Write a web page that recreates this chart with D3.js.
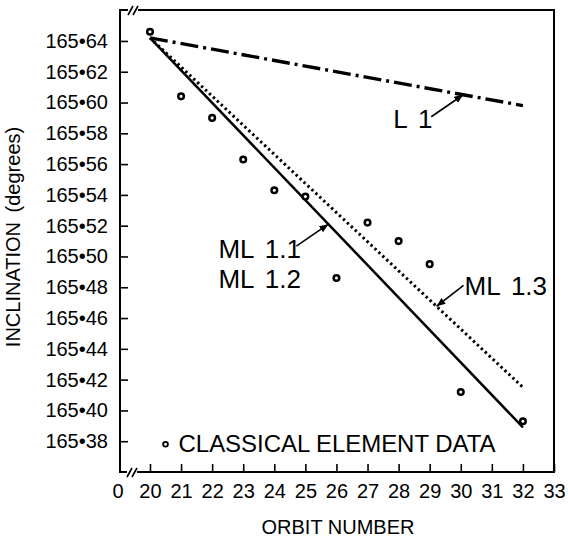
<!DOCTYPE html>
<html>
<head>
<meta charset="utf-8">
<script src="https://cdn.jsdelivr.net/npm/d3@7"></script>
<style>
  body { margin: 0; background: #fff; }
  svg { display: block; font-family: "Liberation Sans", Arial, sans-serif; }
</style>
</head>
<body>
<div id="chart"></div>
<script>
// orbit numbers and classical element inclinations (degrees)
const orbits = [20, 21, 22, 23, 24, 25, 26, 27, 28, 29, 30, 32];
const inclinations = [165.646, 165.604, 165.590, 165.563, 165.543, 165.539,
  165.486, 165.522, 165.510, 165.495, 165.412, 165.393];

// fitted lines: [start orbit, end orbit], [start value, end value]
const lineNames = ['L 1', 'ML 1.1', 'ML 1.3'];
const lineOrbits = [[20, 32], [20, 32], [20, 32]];
const lineValues = [[165.642, 165.598], [165.642, 165.389], [165.642, 165.415]];

const xTicks = [20, 21, 22, 23, 24, 25, 26, 27, 28, 29, 30, 31, 32, 33];
const yTicks = [165.38, 165.40, 165.42, 165.44, 165.46, 165.48, 165.50,
  165.52, 165.54, 165.56, 165.58, 165.60, 165.62, 165.64];

const width = 568, height = 543;
const margin = { top: 10, right: 14, bottom: 71, left: 120 };

const svg = d3.select('#chart').append('svg')
  .attr('width', width)
  .attr('height', height);

const x = d3.scaleLinear().domain([19.035, 33]).range([margin.left, width - margin.right]);
const y = d3.scaleLinear().domain([165.36, 165.6601]).range([height - margin.bottom, margin.top]);

const x0 = x.range()[0], x1 = x.range()[1];
const y0 = y.range()[0], y1 = y.range()[1];

// axes (ticks pointing inward)
const gx = svg.append('g')
  .attr('transform', `translate(0,${y0})`)
  .call(d3.axisBottom(x).tickValues(xTicks).tickSizeInner(-8).tickSizeOuter(0).tickPadding(12).tickFormat(d3.format('d')));
gx.select('.domain').remove();
gx.selectAll('line').attr('stroke', '#000').attr('stroke-width', 1.6);
gx.selectAll('text').attr('fill', '#000').style('font-size', '20px');

// the "0" at the origin of the broken axis
svg.append('text')
  .attr('x', x0 - 2)
  .attr('y', y0 + 12)
  .attr('dy', '0.71em')
  .attr('text-anchor', 'middle')
  .style('font-size', '20px')
  .text('0');

const gy = svg.append('g')
  .attr('transform', `translate(${x0},0)`)
  .call(d3.axisLeft(y).tickValues(yTicks).tickSizeInner(-8).tickSizeOuter(0).tickPadding(12)
    .tickFormat(d => '165•' + d3.format('02d')(Math.round((d - 165) * 100))));
gy.select('.domain').remove();
gy.selectAll('line').attr('stroke', '#000').attr('stroke-width', 1.6);
gy.selectAll('text').attr('fill', '#000').style('font-size', '20px');

// frame with breaks near the left corners
const frame = svg.append('g').attr('stroke', '#000').attr('stroke-width', 2).attr('fill', 'none');
frame.append('path').attr('d', `M${x0 + 8},${y1}H${x0}V${y0}H${x0 + 7}`);
frame.append('path').attr('d', `M${x0 + 18},${y1}H${x1}V${y0}H${x0 + 17}`);
[[x0 + 8, y1], [x0 + 7, y0]].forEach(([bx, by]) => {
  frame.append('path').attr('stroke-width', 1.6)
    .attr('d', `M${bx},${by + 5}L${bx + 5},${by - 4}M${bx + 5},${by + 5}L${bx + 10},${by - 4}`);
});

// fitted lines
const styles = [
  { width: 3.4, dash: '18,5,3,5' },
  { width: 2.5, dash: null },
  { width: 3, dash: '2.4,3' }
];
lineNames.forEach((name, i) => {
  svg.append('line')
    .attr('x1', x(lineOrbits[i][0])).attr('y1', y(lineValues[i][0]))
    .attr('x2', x(lineOrbits[i][1])).attr('y2', y(lineValues[i][1]))
    .attr('stroke', '#000')
    .attr('stroke-width', styles[i].width)
    .attr('stroke-dasharray', styles[i].dash);
});

// data points
svg.append('g').selectAll('circle')
  .data(orbits.map((o, i) => [o, inclinations[i]]))
  .enter()
  .append('circle')
  .attr('cx', d => x(d[0]))
  .attr('cy', d => y(d[1]))
  .attr('r', 2.8)
  .attr('fill', '#fff')
  .attr('stroke', '#000')
  .attr('stroke-width', 2.5);

// arrow annotations
svg.append('defs').append('marker')
  .attr('id', 'arrow')
  .attr('viewBox', '0 0 10 10')
  .attr('refX', 10).attr('refY', 5)
  .attr('markerWidth', 9).attr('markerHeight', 9)
  .attr('markerUnits', 'userSpaceOnUse')
  .attr('orient', 'auto')
  .append('path').attr('d', 'M0,1L10,5L0,9z').attr('fill', '#000');

function onLine(i, o) {
  const [a, b] = lineOrbits[i], [va, vb] = lineValues[i];
  return va + (vb - va) * (o - a) / (b - a);
}

const annotations = [
  { line: 0, at: 30.08, dx: -32, dy: 22, labels: ['L 1'], tx: -70, ty: 33 },
  { line: 1, at: 25.74, dx: -32, dy: 22, labels: ['ML 1.1', 'ML 1.2'], tx: -110, ty: 34 },
  { line: 2, at: 29.22, dx: 27, dy: -21, labels: ['ML 1.3'], tx: 28, ty: -11 }
];
annotations.forEach(a => {
  const px = x(a.at), py = y(onLine(a.line, a.at));
  svg.append('line')
    .attr('x1', px + a.dx).attr('y1', py + a.dy)
    .attr('x2', px).attr('y2', py)
    .attr('stroke', '#000').attr('stroke-width', 1.6)
    .attr('marker-end', 'url(#arrow)');
  a.labels.forEach((t, k) => {
    svg.append('text')
      .attr('x', px + a.tx).attr('y', py + a.ty + k * 30)
      .style('font-size', '26px')
      .style('word-spacing', '4px')
      .text(t);
  });
});

// legend
svg.append('circle')
  .attr('cx', x(20.5)).attr('cy', y(165.38) + 3)
  .attr('r', 2.4).attr('fill', '#fff').attr('stroke', '#000').attr('stroke-width', 1.8);
svg.append('text')
  .attr('x', x(20.5) + 13).attr('y', y(165.38) + 11)
  .style('font-size', '24px')
  .attr('textLength', 317)
  .text('CLASSICAL ELEMENT DATA');

// axis titles
svg.append('text')
  .attr('x', (x(20) + x(33)) / 2 - 14)
  .attr('y', 534)
  .attr('text-anchor', 'middle')
  .style('font-size', '20px')
  .text('ORBIT NUMBER');

svg.append('text')
  .attr('transform', `translate(20,${(y0 + y1) / 2 - 4}) rotate(-90)`)
  .attr('text-anchor', 'middle')
  .style('font-size', '20px')
  .style('word-spacing', '4px')
  .text('INCLINATION (degrees)');
</script>
</body>
</html>
